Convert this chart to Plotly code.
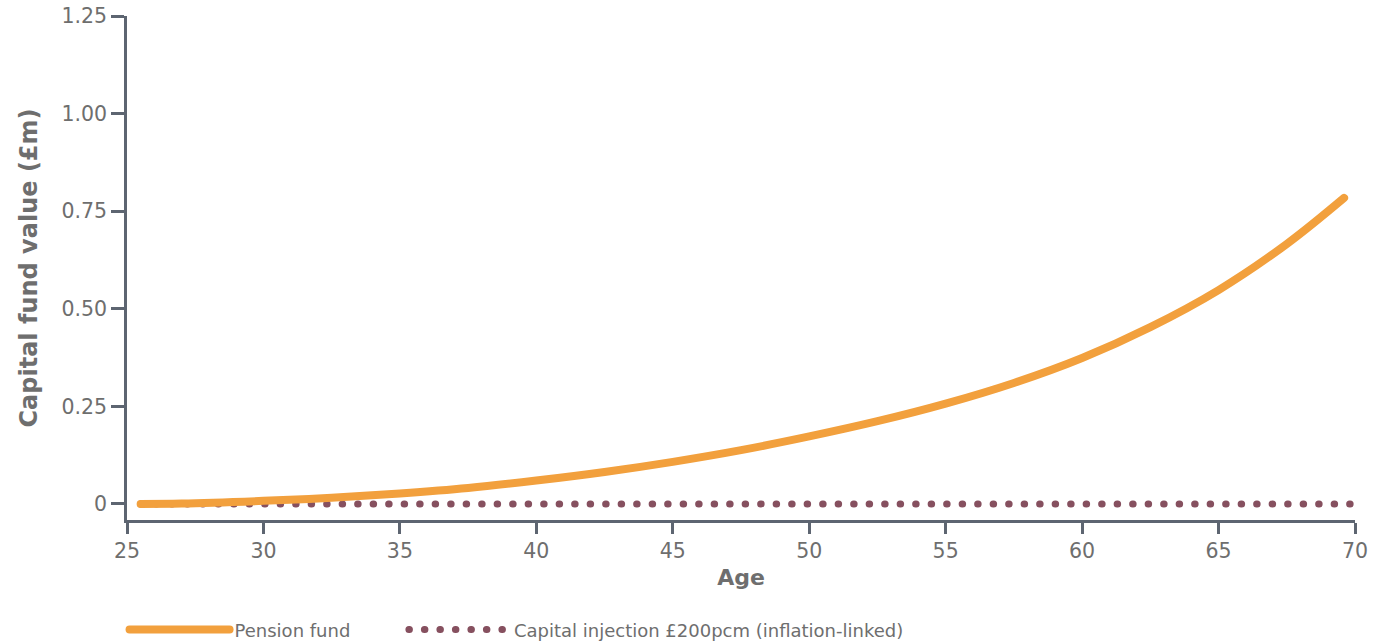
import plotly.graph_objects as go

# Data
pension_age = [25.5, 27, 30, 32.5, 35, 37.5, 40, 42.5, 45, 47.5, 50, 52.5,
               55, 57.5, 60, 62.5, 65, 67.5, 69.6]
pension_value = [0.0, 0.001, 0.008, 0.016, 0.027, 0.041, 0.060, 0.082, 0.108,
                 0.138, 0.173, 0.212, 0.257, 0.310, 0.374, 0.453, 0.548, 0.666, 0.784]
injection_age = [25.5, 30, 35, 40, 45, 50, 55, 60, 65, 70]
injection_value = [0, 0, 0, 0, 0, 0, 0, 0, 0, 0]

x_ticks = [25, 30, 35, 40, 45, 50, 55, 60, 65, 70]
y_ticks = [0, 0.25, 0.5, 0.75, 1.0, 1.25]
y_ticktext = ["0", "0.25", "0.50", "0.75", "1.00", "1.25"]

ORANGE = "#F2A03D"
MAROON = "#86505F"
AXIS = "#5D6571"
TEXT = "#6E6E6E"
FONT = "DejaVu Sans, Arial, sans-serif"

fig = go.Figure()
fig.add_trace(go.Scatter(
    x=injection_age, y=injection_value, mode="lines",
    name="Capital injection £200pcm (inflation-linked)",
    line=dict(color=MAROON, width=7, dash="0.5px,15px"),
    legend="legend2", hoverinfo="skip",
))
fig.add_trace(go.Scatter(
    x=pension_age, y=pension_value, mode="lines",
    name="Pension fund",
    line=dict(color=ORANGE, width=8, shape="spline"),
    legend="legend",
))

legend_common = dict(
    orientation="h", y=-0.218, yanchor="middle", xanchor="left",
    font=dict(size=18, color=TEXT), itemwidth=100, bgcolor="rgba(0,0,0,0)",
)

fig.update_layout(
    width=1384, height=643,
    margin=dict(l=127, r=29, t=16, b=123, autoexpand=False),
    paper_bgcolor="white", plot_bgcolor="white",
    font=dict(family=FONT, color=TEXT, size=20),
    showlegend=True,
    legend=dict(x=-0.002, **legend_common),
    legend2=dict(x=0.2255, **legend_common),
    xaxis=dict(
        range=[25, 70], tickvals=x_ticks, showgrid=False, zeroline=False,
        showline=True, linecolor=AXIS, linewidth=2.5, automargin=False,
        ticks="outside", ticklen=11, tickwidth=2.5, tickcolor=AXIS,
        tickfont=dict(size=20.5, color=TEXT),
        title=dict(text="<b>Age</b>", font=dict(size=22, color=TEXT), standoff=8),
    ),
    yaxis=dict(
        range=[-0.041, 1.25], tickvals=y_ticks, ticktext=y_ticktext,
        showgrid=False, zeroline=False, automargin=False,
        showline=True, linecolor=AXIS, linewidth=2.5,
        ticks="outside", ticklen=13, tickwidth=2.5, tickcolor=AXIS,
        tickfont=dict(size=20.5, color=TEXT),
        title=dict(text="<b>Capital fund value (£m)</b>", font=dict(size=24, color=TEXT), standoff=18),
    ),
)

post = """
var gd = document.getElementById('{plot_id}');
function fixCaps(){
  gd.querySelectorAll('g.legendlines path, g.trace path.js-line').forEach(function(p){
    p.style.strokeLinecap = 'round';
    p.style.strokeLinejoin = 'round';
  });
}
fixCaps();
if (gd.on) { gd.on('plotly_afterplot', fixCaps); }
"""

fig.write_html("out.html", post_script=post)
